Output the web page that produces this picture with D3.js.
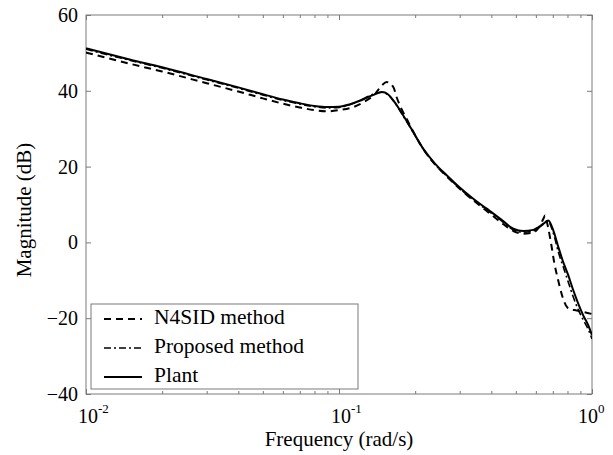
<!DOCTYPE html>
<html>
<head>
<meta charset="utf-8">
<script src="https://cdn.jsdelivr.net/npm/d3@7"></script>
<style>
  html, body { margin: 0; padding: 0; background: #fff; }
  svg { display: block; }
  text { font-family: "Liberation Serif", "Times New Roman", serif; fill: #000; }
</style>
</head>
<body>
<svg id="chart" width="613" height="455"></svg>
<script>
// ---- Data ----
const plantFreq = [0.01, 0.015, 0.02, 0.03, 0.04, 0.05, 0.06, 0.07, 0.08, 0.09, 0.1, 0.11, 0.12, 0.13, 0.14, 0.148, 0.156, 0.1639, 0.1795, 0.1966, 0.2154, 0.2395, 0.2665, 0.3008, 0.3395, 0.3836, 0.4329, 0.4887, 0.5353, 0.5861, 0.6135, 0.645, 0.672, 0.703, 0.736, 0.765, 0.806, 0.844, 0.883, 0.924, 0.967, 1.0];
const plantMag  = [51.2, 48.2, 46.2, 43.1, 40.9, 39.1, 37.7, 36.7, 36.0, 35.7, 35.8, 36.4, 37.3, 38.3, 39.2, 39.7, 39.1, 37.5, 33.5, 29.1, 24.7, 20.8, 17.7, 14.4, 11.5, 8.9, 6.3, 3.6, 3.0, 3.3, 4.0, 5.0, 5.8, 3.2, -1.2, -4.7, -8.7, -12.7, -16.2, -19.3, -21.9, -24.5];

const n4sidFreq = [0.01, 0.015, 0.02, 0.03, 0.04, 0.05, 0.06, 0.07, 0.08, 0.09, 0.1, 0.114, 0.125, 0.139, 0.1476, 0.1544, 0.1639, 0.169, 0.1778, 0.1866, 0.1966, 0.2154, 0.2395, 0.2665, 0.3008, 0.3395, 0.3836, 0.4329, 0.4887, 0.5353, 0.5861, 0.62, 0.645, 0.652, 0.668, 0.69, 0.71, 0.735, 0.765, 0.80, 0.87, 0.93, 1.0];
const n4sidMag  = [50.1, 47.1, 45.1, 42.0, 39.8, 38.0, 36.6, 35.6, 34.9, 34.6, 34.9, 35.7, 37.0, 39.2, 41.4, 42.3, 41.0, 38.3, 34.8, 32.2, 29.2, 24.6, 20.6, 17.4, 14.1, 11.1, 8.3, 5.5, 3.0, 2.3, 2.6, 4.2, 6.5, 7.1, 4.5, -0.5, -5.5, -10.0, -14.4, -17.2, -18.0, -18.4, -18.9];

const propFreq = [0.01, 0.015, 0.02, 0.03, 0.04, 0.05, 0.06, 0.07, 0.08, 0.09, 0.1, 0.11, 0.12, 0.13, 0.14, 0.148, 0.156, 0.1639, 0.1795, 0.1966, 0.2154, 0.2395, 0.2665, 0.3008, 0.3395, 0.3836, 0.4329, 0.4887, 0.5353, 0.5861, 0.6135, 0.645, 0.668, 0.703, 0.736, 0.77, 0.806, 0.844, 0.883, 0.924, 0.967, 1.0];
const propMag  = [51.0, 48.0, 46.0, 42.9, 40.7, 38.9, 37.5, 36.5, 35.8, 35.5, 35.6, 36.3, 37.3, 38.5, 39.3, 39.6, 39.0, 37.4, 33.3, 29.0, 24.6, 20.6, 17.5, 14.2, 11.2, 8.6, 6.0, 3.3, 2.7, 3.0, 3.8, 4.9, 5.6, 2.5, -2.5, -6.5, -10.5, -14.5, -17.8, -20.5, -23.0, -25.5];

const yTicks = [-40, -20, 0, 20, 40, 60];
const xMajor = [0.01, 0.1, 1];
const xExponents = ["-2", "-1", "0"];
const legendLabels = ["N4SID method", "Proposed method", "Plant"];

// ---- Layout ----
const svg = d3.select("#chart");
const L = 86, R = 592, T = 15, B = 394;
const axisColor = "#7a7a7a";

const x = d3.scaleLog().domain([0.01, 1]).range([L, R]);
const y = d3.scaleLinear().domain([-40, 60]).range([B, T]);

const xMinor = [];
for (let d = 0.01; d < 1; d *= 10) {
  for (let k = 2; k <= 9; k++) xMinor.push(+(d * k).toPrecision(3));
}

// clip
svg.append("defs").append("clipPath").attr("id", "clip")
  .append("rect").attr("x", L).attr("y", T).attr("width", R - L).attr("height", B - T);

// axes (ticks inward)
function styleAxis(g) {
  g.select(".domain").remove();
  g.selectAll(".tick line").attr("stroke", axisColor).attr("stroke-width", 1);
}
svg.append("g").attr("transform", `translate(0,${B})`)
  .call(d3.axisBottom(x).tickValues(xMinor).tickSize(-3).tickFormat(""))
  .call(styleAxis);
svg.append("g").attr("transform", `translate(0,${B})`)
  .call(d3.axisBottom(x).tickValues(xMajor).tickSize(-5).tickFormat(""))
  .call(styleAxis);
svg.append("g").attr("transform", `translate(0,${T})`)
  .call(d3.axisTop(x).tickValues(xMinor).tickSize(-3).tickFormat(""))
  .call(styleAxis);
svg.append("g").attr("transform", `translate(0,${T})`)
  .call(d3.axisTop(x).tickValues(xMajor).tickSize(-5).tickFormat(""))
  .call(styleAxis);

const yAxisG = svg.append("g").attr("transform", `translate(${L},0)`)
  .call(d3.axisLeft(y).tickValues(yTicks).tickSize(-5).tickPadding(8).tickFormat(d3.format("d")))
  .call(styleAxis);
yAxisG.selectAll(".tick text")
  .style("font-family", '"Liberation Serif", serif').style("font-size", "20px").attr("fill", "#000");
svg.append("g").attr("transform", `translate(${R},0)`)
  .call(d3.axisRight(y).tickValues(yTicks).tickSize(-5).tickFormat(""))
  .call(styleAxis);

// box
svg.append("rect").attr("x", L).attr("y", T).attr("width", R - L).attr("height", B - T)
  .attr("fill", "none").attr("stroke", axisColor).attr("stroke-width", 1);

// x tick labels 10^n
xMajor.forEach((v, i) => {
  const off = xExponents[i] === "0" ? -14 : -8;
  const t = svg.append("text").attr("x", x(v) + off).attr("y", 423).style("font-size", "20px");
  t.append("tspan").text("10");
  t.append("tspan").attr("dy", -10).style("font-size", "13px").text(xExponents[i]);
});

// axis titles
svg.append("text").attr("x", (L + R) / 2).attr("y", 446).attr("text-anchor", "middle")
  .style("font-size", "21px").text("Frequency (rad/s)");
svg.append("text").attr("transform", `translate(31,210) rotate(-90)`).attr("text-anchor", "middle")
  .style("font-size", "21px").text("Magnitude (dB)");

// lines
const line = d3.line().x(d => x(d[0])).y(d => y(d[1])).curve(d3.curveMonotoneX);
const plotG = svg.append("g").attr("clip-path", "url(#clip)");
const series = [
  { f: n4sidFreq, m: n4sidMag, dash: "7,5", w: 2 },
  { f: propFreq, m: propMag, dash: "7,3,2,3", w: 1.6 },
  { f: plantFreq, m: plantMag, dash: null, w: 2 }
];
series.forEach(s => {
  plotG.append("path").datum(d3.zip(s.f, s.m)).attr("d", line)
    .attr("fill", "none").attr("stroke", "#000").attr("stroke-width", s.w)
    .attr("stroke-dasharray", s.dash);
});

// legend
const lg = svg.append("g");
lg.append("rect").attr("x", 91).attr("y", 304).attr("width", 267).attr("height", 85)
  .attr("fill", "#fff").attr("stroke", axisColor).attr("stroke-width", 1);
series.forEach((s, i) => {
  const by = 324 + i * 29;
  lg.append("line").attr("x1", 104).attr("x2", 142).attr("y1", by - 5).attr("y2", by - 5)
    .attr("stroke", "#000").attr("stroke-width", s.w).attr("stroke-dasharray", s.dash);
  lg.append("text").attr("x", 154).attr("y", by).style("font-size", "21.5px").text(legendLabels[i]);
});
</script>
</body>
</html>
